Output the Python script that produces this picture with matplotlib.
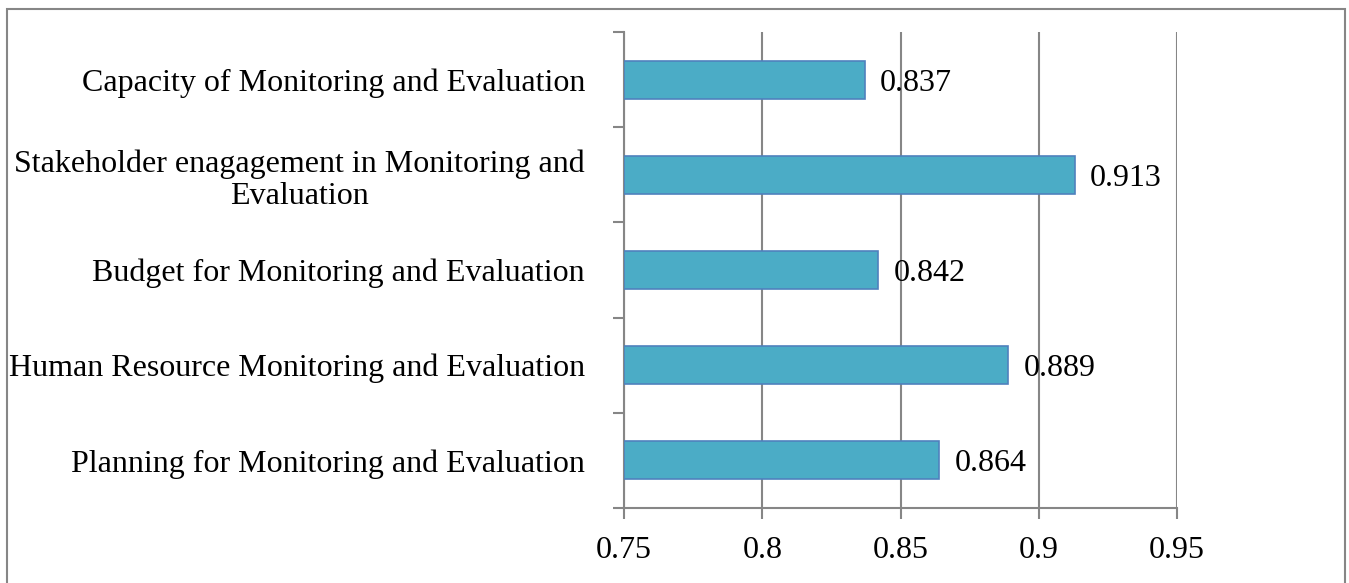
import matplotlib
matplotlib.use("Agg")
import matplotlib.pyplot as plt
from matplotlib.patches import Rectangle
from matplotlib.ticker import FixedLocator

categories = [
    "Planning for Monitoring and Evaluation",
    "Human Resource Monitoring and Evaluation",
    "Budget for Monitoring and Evaluation",
    "Stakeholder enagagement in Monitoring and\nEvaluation",
    "Capacity of Monitoring and Evaluation",
]
values = [0.864, 0.889, 0.842, 0.913, 0.837]
x_ticks = [0.75, 0.8, 0.85, 0.9, 0.95]
x_tick_labels = ["0.75", "0.8", "0.85", "0.9", "0.95"]

plt.rcParams["font.family"] = ["Liberation Serif", "DejaVu Serif"]
grid_color = "#868686"
fs = 23

fig = plt.figure(figsize=(13.49, 5.83), dpi=100)
ax = fig.add_axes([624 / 1349, 1 - 508 / 583, (1177 - 624) / 1349, (508 - 32) / 583])

pos = list(range(len(categories)))
ax.barh(pos, [v - x_ticks[0] for v in values], left=x_ticks[0], height=0.4,
        color="#4BACC6", edgecolor="#4F81BD", linewidth=1.2, zorder=3)

for p, v in zip(pos, values):
    ax.text(v + 0.0055, p, f"{v:.3f}", va="center_baseline", ha="left",
            fontsize=fs, zorder=4)

ax.set_xlim(x_ticks[0], x_ticks[-1])
ax.set_ylim(-0.5, len(categories) - 0.5)
ax.set_xticks(x_ticks)
ax.set_xticklabels(x_tick_labels, fontsize=fs)
ax.set_yticks(pos)
ax.set_yticklabels(categories, fontsize=fs, ha="right", multialignment="center",
                   linespacing=1.15)
ax.yaxis.set_minor_locator(FixedLocator([i - 0.5 for i in range(len(categories) + 1)]))
ax.tick_params(axis="y", which="major", length=0, pad=28)
ax.tick_params(axis="y", which="minor", length=8, width=1.5, color=grid_color)
ax.tick_params(axis="x", length=8, width=1.5, color=grid_color, pad=12)

ax.grid(axis="x", color=grid_color, linewidth=1.5, zorder=0)
for side in ("top", "right"):
    ax.spines[side].set_visible(False)
for side in ("left", "bottom"):
    ax.spines[side].set_color(grid_color)
    ax.spines[side].set_linewidth(1.5)

fig.patches.append(Rectangle((7 / 1349, -0.05), (1345 - 7) / 1349, 1 - 9 / 583 + 0.05,
                             transform=fig.transFigure, fill=False,
                             edgecolor=grid_color, linewidth=1.5))

fig.savefig("out.png", dpi=100)
